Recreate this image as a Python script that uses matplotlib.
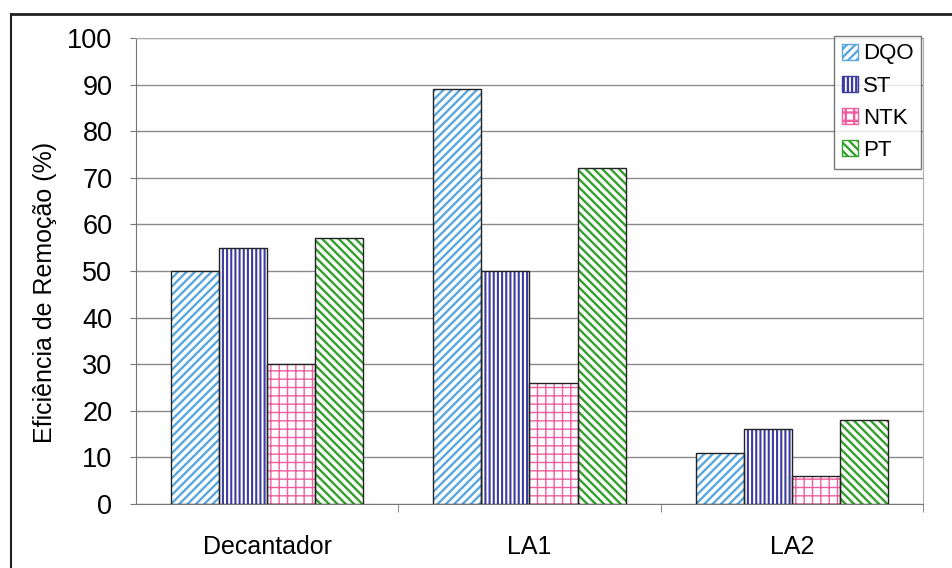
import numpy as np
import matplotlib

matplotlib.use("Agg")
import matplotlib.pyplot as plt
from matplotlib.patches import Patch

plt.rcParams["font.family"] = ["Liberation Sans", "DejaVu Sans"]
plt.rcParams["hatch.linewidth"] = 1.7

categories = ["Decantador", "LA1", "LA2"]
series = ["DQO", "ST", "NTK", "PT"]
dqo = [50, 89, 11]
st = [55, 50, 16]
ntk = [30, 26, 6]
pt = [57, 72, 18]
values = [dqo, st, ntk, pt]

colors = ["#5aa7e0", "#3c3ca0", "#ef5fa0", "#33a02c"]
hatches = ["////", "||||", "++", "\\\\\\\\"]
hatch_lw = [1.7, 1.5, 1.0, 1.7]

fig = plt.figure(figsize=(9.53, 5.68), dpi=100)
ax = fig.add_axes([136 / 953, 1 - 504 / 568, 787 / 953, 466 / 568])

x = np.arange(len(categories))
width = 0.183
for i, (name, vals) in enumerate(zip(series, values)):
    pos = x + (i - 1.5) * width
    with plt.rc_context({"hatch.linewidth": hatch_lw[i]}):
        ax.bar(pos, vals, width, color="white", edgecolor=colors[i], hatch=hatches[i],
               linewidth=0, zorder=2)
    ax.bar(pos, vals, width, color="none", edgecolor="#222222", linewidth=1.0, zorder=3)

ax.set_xlim(-0.5, 2.5)
ax.set_ylim(0, 100)
ax.set_yticks(range(0, 101, 10))
ax.set_xticks(x)
ax.set_xticklabels(categories, fontsize=18)
ax.tick_params(axis="y", labelsize=19.5, length=4, pad=13, color="#777777")
ax.tick_params(axis="x", length=0, pad=22)
ax.set_xticks([0.5, 1.5, 2.5], minor=True)
ax.tick_params(axis="x", which="minor", length=6, color="#777777")
ax.yaxis.grid(True, color="#8a8a8a", linewidth=1.0, zorder=0)
ax.set_axisbelow(True)
ax.set_ylabel("Eficiência de Remoção (%)", fontsize=18)
ax.yaxis.set_label_coords(-0.1, 0.455)
for side in ["top", "right"]:
    ax.spines[side].set_color("#b0b0b0")
for side in ["left", "bottom"]:
    ax.spines[side].set_color("#777777")

handles = []
for i, s in enumerate(series):
    with plt.rc_context({"hatch.linewidth": hatch_lw[i]}):
        handles.append(Patch(facecolor="white", edgecolor=colors[i], hatch=hatches[i], label=s))
leg = ax.legend(handles=handles, loc="upper right", fontsize=16, frameon=True, fancybox=False,
                handlelength=0.75, handleheight=0.75, handletextpad=0.2, borderpad=0.35,
                labelspacing=0.5, borderaxespad=0, bbox_to_anchor=(0.9975, 1.005))
leg.get_frame().set_edgecolor("#555555")
leg.get_frame().set_linewidth(1.0)

# outer frame of the original figure
fig.add_artist(plt.Line2D([11 / 953, 1.0], [1 - 14 / 568, 1 - 14 / 568], color="#222222", linewidth=2))
fig.add_artist(plt.Line2D([11 / 953, 11 / 953], [0, 1 - 14 / 568], color="#222222", linewidth=1.5))

fig.savefig("out.png", dpi=100)
